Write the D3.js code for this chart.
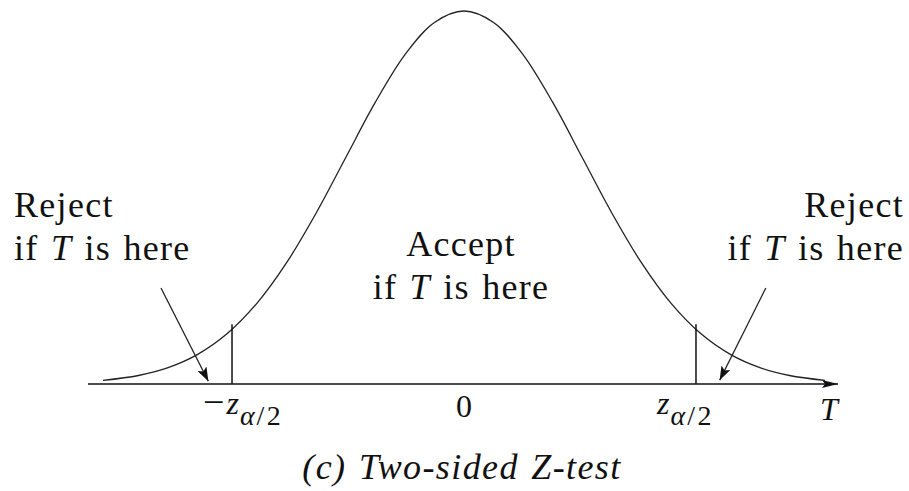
<!DOCTYPE html>
<html>
<head>
<meta charset="utf-8">
<script src="https://cdn.jsdelivr.net/npm/d3@7"></script>
<style>
  html, body { margin: 0; padding: 0; background: #fff; }
  svg { display: block; }
  text { font-family: "Liberation Serif", "Times New Roman", serif; fill: #111; }
</style>
</head>
<body>
<svg id="chart" width="909" height="491"></svg>
<script>
// Standard normal density, tabulated (t, density)
const tValues = [-3.05, -2.75, -2.5, -2.25, -2.0, -1.75, -1.5, -1.25, -1.0, -0.75, -0.5, -0.25, 0,
                 0.25, 0.5, 0.75, 1.0, 1.25, 1.5, 1.75, 2.0, 2.25, 2.5, 2.75, 3.05];
const densityValues = [0.00381, 0.00909, 0.01753, 0.03174, 0.05399, 0.08628, 0.12952, 0.18265, 0.24197, 0.30114, 0.35207, 0.38667, 0.39894,
                       0.38667, 0.35207, 0.30114, 0.24197, 0.18265, 0.12952, 0.08628, 0.05399, 0.03174, 0.01753, 0.00909, 0.00381];

// Critical values of the two-sided test and height of their marker lines
const criticalValues = [-1.96, 1.96];
const criticalMarkerTop = 0.064;

// Tick labels under the axis
const tickValues = [-1.96, 0, 1.96];
const tickLabels = ["-z", "0", "z"];

// Region annotations
const regionLines = [["Reject", "if T is here"], ["Accept", "if T is here"], ["Reject", "if T is here"]];
// Pointer arrows from the reject labels into the tails: [fromT, fromDensity, toT, toDensity]
const pointerArrows = [[-2.56, 0.1027, -2.16, 0.0030], [2.55, 0.1027, 2.16, 0.0040]];

const caption = "(c) Two-sided Z-test";

const svg = d3.select("#chart");
const x = d3.scaleLinear().domain([-3.05, 3.05]).range([103, 825]);
const y = d3.scaleLinear().domain([0, 0.39894]).range([384, 11]);

const defs = svg.append("defs");
defs.append("marker").attr("id", "axisHead")
  .attr("viewBox", "0 0 16 8").attr("refX", 16).attr("refY", 4)
  .attr("markerWidth", 16).attr("markerHeight", 8).attr("markerUnits", "userSpaceOnUse")
  .attr("orient", "auto")
  .append("path").attr("d", "M0,0 L16,4 L0,8 L3,4 Z").attr("fill", "#111");
defs.append("marker").attr("id", "pointHead")
  .attr("viewBox", "0 0 14 10").attr("refX", 14).attr("refY", 5)
  .attr("markerWidth", 14).attr("markerHeight", 10).attr("markerUnits", "userSpaceOnUse")
  .attr("orient", "auto")
  .append("path").attr("d", "M0,0 L14,5 L0,10 L3,5 Z").attr("fill", "#111");

// Horizontal T axis with arrow
svg.append("line")
  .attr("x1", x(-3.05) - 15).attr("x2", x(3.05) + 13)
  .attr("y1", y(0)).attr("y2", y(0))
  .attr("stroke", "#111").attr("stroke-width", 1.6)
  .attr("marker-end", "url(#axisHead)");

// Density curve
const pts = tValues.map((t, i) => [t, densityValues[i]]);
svg.append("path")
  .datum(pts)
  .attr("fill", "none").attr("stroke", "#222").attr("stroke-width", 1.3)
  .attr("d", d3.line().x(d => x(d[0])).y(d => y(d[1])).curve(d3.curveCatmullRom.alpha(0.5)));

// Critical value markers
svg.selectAll("line.crit").data(criticalValues).join("line")
  .attr("class", "crit")
  .attr("x1", d => x(d)).attr("x2", d => x(d))
  .attr("y1", y(0)).attr("y2", y(criticalMarkerTop))
  .attr("stroke", "#111").attr("stroke-width", 1.5);

// Tick labels
const tickG = svg.append("g").attr("font-size", 32);
tickValues.forEach((v, i) => {
  const lab = tickLabels[i];
  if (lab === "0") {
    tickG.append("text").attr("x", x(v)).attr("y", 417).attr("text-anchor", "middle").text("0");
  } else {
    const neg = lab.startsWith("-");
    const t = tickG.append("text").attr("x", x(v) + (neg ? -29 : -39)).attr("y", 414);
    if (neg) t.append("tspan").attr("font-size", 38).attr("dy", 1).text("\u2212");
    t.append("tspan").attr("font-style", "italic").attr("dx", neg ? 2 : 0).attr("dy", neg ? -1 : 0).text("z");
    t.append("tspan").attr("font-size", 28).attr("dy", 11).attr("dx", 1).attr("font-style", "italic").text("\u03b1");
    t.append("tspan").attr("font-size", 28).attr("letter-spacing", 2.5).attr("dx", 2).text("/2");
  }
});
svg.append("text").attr("x", x(3.05) + 4).attr("y", 420)
  .attr("font-size", 32).attr("font-style", "italic").attr("text-anchor", "middle").text("T");

// Region annotations
function drawBlock(lines, xPos, anchor, y0) {
  const g = svg.append("g").attr("font-size", 36).attr("text-anchor", anchor)
    .attr("letter-spacing", 1.3).attr("word-spacing", 2);
  lines.forEach((ln, j) => {
    const t = g.append("text").attr("x", xPos).attr("y", y0 + j * 43);
    const parts = ln.split("T");
    if (parts.length === 2) {
      t.append("tspan").text(parts[0]);
      t.append("tspan").attr("font-style", "italic").text("T");
      t.append("tspan").text(parts[1]);
    } else {
      t.text(ln);
    }
  });
}
drawBlock(regionLines[0], 14, "start", 217);
drawBlock(regionLines[1], x(0) - 3, "middle", 256);
drawBlock(regionLines[2], 904, "end", 217);

// Pointer arrows
svg.selectAll("line.pointer").data(pointerArrows).join("line")
  .attr("class", "pointer")
  .attr("x1", d => x(d[0])).attr("y1", d => y(d[1]))
  .attr("x2", d => x(d[2])).attr("y2", d => y(d[3]))
  .attr("stroke", "#222").attr("stroke-width", 1.3)
  .attr("marker-end", "url(#pointHead)");

// Caption
svg.append("text").attr("x", 462).attr("y", 479)
  .attr("font-size", 36).attr("font-style", "italic").attr("text-anchor", "middle")
  .attr("letter-spacing", 1.4).attr("word-spacing", 2)
  .text(caption);
</script>
</body>
</html>
